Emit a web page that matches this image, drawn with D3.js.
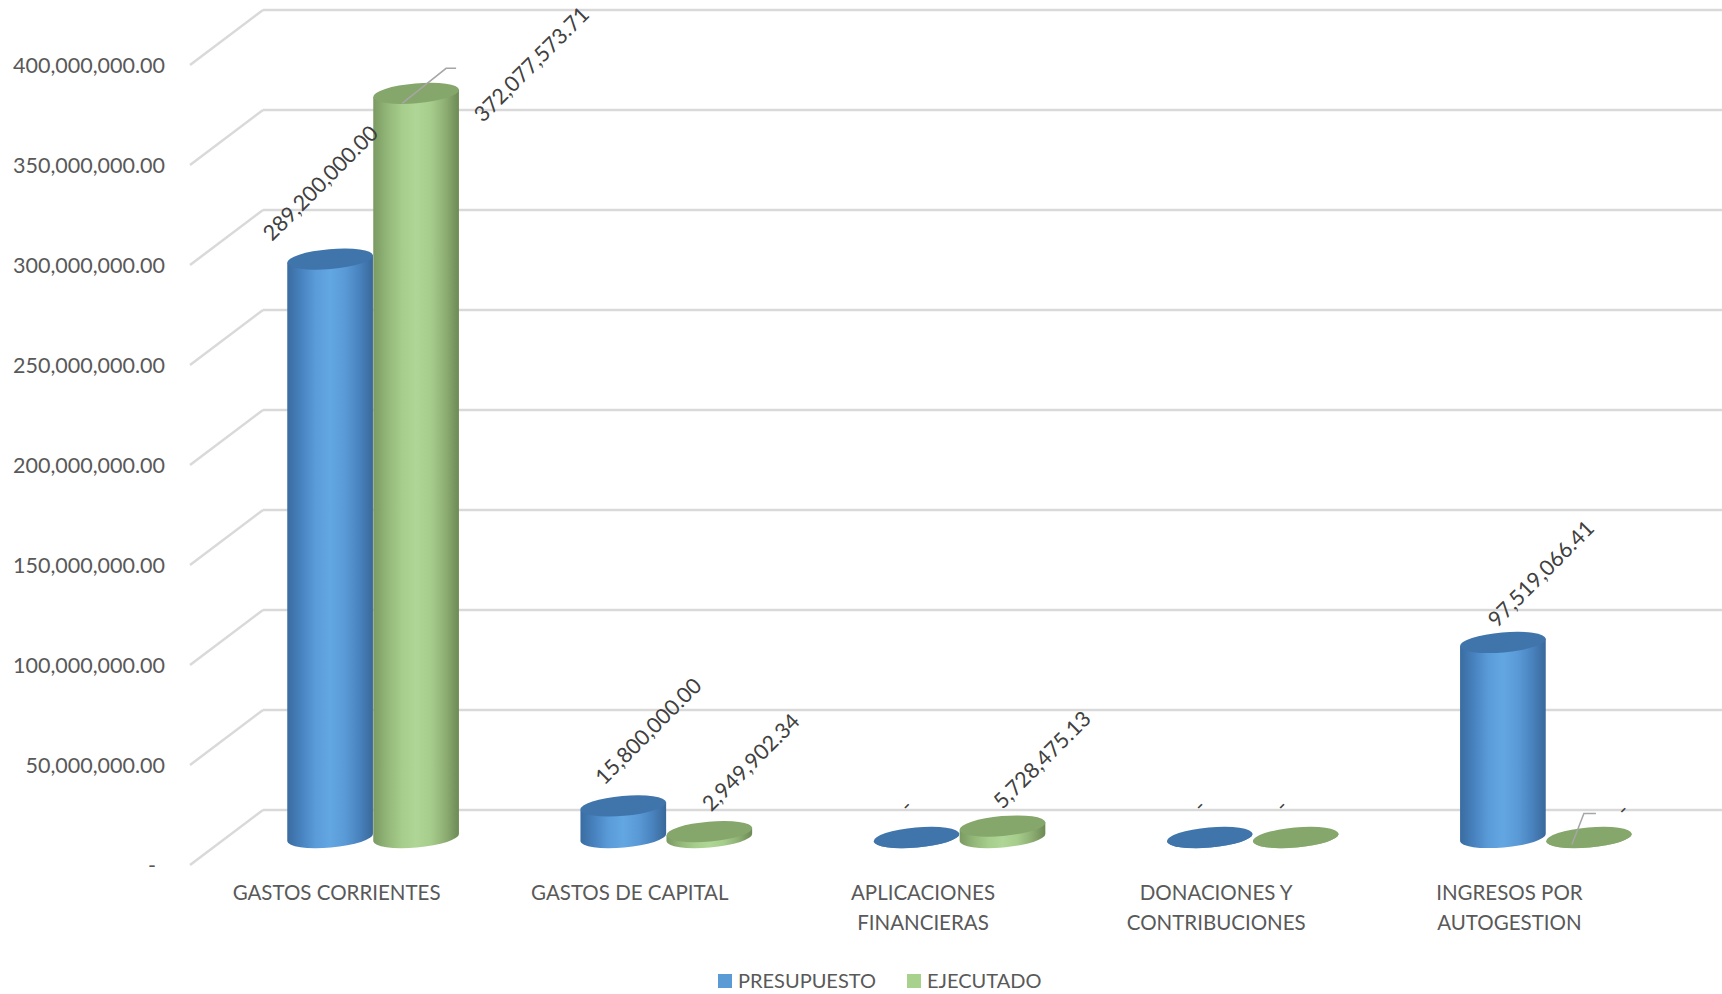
<!DOCTYPE html>
<html>
<head>
<meta charset="utf-8">
<script src="https://cdn.jsdelivr.net/npm/d3@7"></script>
<style>
  body { margin: 0; background: #fff; }
  svg { display: block; font-family: Lato, "Open Sans", sans-serif; }
</style>
</head>
<body>
<div id="chart"></div>
<script>
"use strict";

// chart data
var categories = [
    ["GASTOS CORRIENTES"],
    ["GASTOS DE CAPITAL"],
    ["APLICACIONES", "FINANCIERAS"],
    ["DONACIONES Y", "CONTRIBUCIONES"],
    ["INGRESOS POR", "AUTOGESTION"]
];
var seriesNames = ["PRESUPUESTO", "EJECUTADO"];
var presupuesto = [289200000.00, 15800000.00, 0, 0, 97519066.41];
var ejecutado = [372077573.71, 2949902.34, 5728475.13, 0, 0];
var yTicks = [0, 50000000, 100000000, 150000000, 200000000, 250000000, 300000000, 350000000, 400000000];

var specs = {
    w: 1722,
    h: 994,
    backLeft: 263,
    backRight: 1729,
    top: 10,
    bottom: 810,
    depthX: -73,   // offset of the front plane
    depthY: 55,
    barDepth: 0.5, // bars sit half way into the floor
    barW: 86,
    ry: 10,
    tilt: -5
};

var colors = {
    PRESUPUESTO: { top: "#3f75ab", key: "#5b9bd5",
        stops: ["#3a6ca0", "#4883c0", "#5a9cd9", "#62a6e2", "#5a9bd7", "#4a84c0", "#39689a"] },
    EJECUTADO: { top: "#85a76b", key: "#a9d18e",
        stops: ["#7a9a61", "#93b779", "#a6cd8b", "#b0d697", "#a7cd8c", "#8fb075", "#6c8a54"] }
};

// label placement relative to the top of each cylinder (series:category)
var labelLayout = {
    "0:0": { dx: -58, dy: -17 },
    "0:1": { dx: -19, dy: -20 },
    "0:2": { dx: -8, dy: -24 },
    "0:3": { dx: -8, dy: -24 },
    "0:4": { dx: -6, dy: -14 },
    "1:0": { dx: 67, dy: 30, leader: [[-14, 10], [30, -25], [40, -25]] },
    "1:1": { dx: 2, dy: -19 },
    "1:2": { dx: 0, dy: -16 },
    "1:3": { dx: -12, dy: -24 },
    "1:4": { dx: 36, dy: -20, leader: [[-17, 7], [-5, -24], [7, -24]] }
};

var fmt = d3.format(",.2f");
function label(v) { return v === 0 ? "-" : fmt(v); }

var svg = d3.select("#chart").append("svg")
    .attr("width", specs.w)
    .attr("height", specs.h);

var y = d3.scaleLinear().domain([0, 400000000]).range([specs.bottom, specs.top]);
var x = d3.scaleBand().domain(d3.range(categories.length))
    .range([specs.backLeft, specs.backRight]).paddingInner(0).paddingOuter(0);
var xs = d3.scaleBand().domain(seriesNames).range([-specs.barW, specs.barW]);

// gradients for the cylinder bodies
var defs = svg.append("defs");
seriesNames.forEach(function(name, i) {
    var g = defs.append("linearGradient").attr("id", "grad" + i)
        .attr("x1", "0%").attr("x2", "100%").attr("y1", "0%").attr("y2", "0%");
    var st = colors[name].stops;
    st.forEach(function(c, k) {
        g.append("stop").attr("offset", (k / (st.length - 1) * 100) + "%").attr("stop-color", c);
    });
});

// gridlines: back wall + side wall diagonals
var grid = svg.append("g");
yTicks.forEach(function(t) {
    var yy = y(t);
    grid.append("line")
        .attr("x1", specs.backLeft).attr("x2", specs.w)
        .attr("y1", yy).attr("y2", yy)
        .attr("stroke", "#d9d9d9").attr("stroke-width", 2.5);
    grid.append("line")
        .attr("x1", specs.backLeft + specs.depthX).attr("y1", yy + specs.depthY)
        .attr("x2", specs.backLeft).attr("y2", yy)
        .attr("stroke", "#d9d9d9").attr("stroke-width", 2.5);
});

// y axis labels on the front plane
svg.append("g").selectAll("text")
    .data(yTicks)
    .enter()
    .append("text")
    .attr("x", function(d) { return d === 0 ? 156 : 165; })
    .attr("y", function(d) { return y(d) + specs.depthY + 8; })
    .attr("text-anchor", "end")
    .attr("fill", "#595959")
    .style("font-size", "21.5px")
    .text(label);

// category labels on the front plane
var catG = svg.append("g");
categories.forEach(function(lines, i) {
    var cx = x(i) + x.bandwidth() / 2 + specs.depthX;
    var t = catG.append("text")
        .attr("text-anchor", "middle")
        .attr("fill", "#595959")
        .style("font-size", "20.5px");
    lines.forEach(function(l, k) {
        t.append("tspan").attr("x", cx).attr("y", 900 + k * 30).text(l);
    });
});

// bars
var series = [presupuesto, ejecutado];
var bars = [];
series.forEach(function(vals, s) {
    vals.forEach(function(v, i) {
        var cx = x(i) + x.bandwidth() / 2 + xs(seriesNames[s]) + xs.bandwidth() / 2 + specs.depthX * specs.barDepth;
        bars.push({
            s: s, i: i, v: v, cx: cx,
            top: y(v) + specs.depthY * specs.barDepth,
            bot: y(0) + specs.depthY * specs.barDepth
        });
    });
});
// draw category by category so green overlaps blue
bars.sort(function(a, b) { return a.i - b.i || a.s - b.s; });

var rx = specs.barW / 2;
var phi = specs.tilt * Math.PI / 180;
var ex = rx * Math.cos(phi), ey = rx * Math.sin(phi);

var barG = svg.append("g");
bars.forEach(function(d) {
    var c = colors[seriesNames[d.s]];
    var path = "M" + (d.cx - ex) + "," + (d.top - ey) +
        "L" + (d.cx - ex) + "," + (d.bot - ey) +
        "A" + rx + "," + specs.ry + "," + specs.tilt + ",0,0," + (d.cx + ex) + "," + (d.bot + ey) +
        "L" + (d.cx + ex) + "," + (d.top + ey) + "Z";
    barG.append("path")
        .attr("d", path)
        .attr("fill", "url(#grad" + d.s + ")");
    barG.append("ellipse")
        .attr("cx", 0).attr("cy", 0)
        .attr("rx", rx).attr("ry", specs.ry)
        .attr("transform", "translate(" + d.cx + "," + d.top + ") rotate(" + specs.tilt + ")")
        .attr("fill", c.top);
});

// data labels
var labG = svg.append("g");
bars.forEach(function(d) {
    var lay = labelLayout[d.s + ":" + d.i];
    if (lay.leader) {
        labG.append("polyline")
            .attr("points", lay.leader.map(function(p) { return (d.cx + p[0]) + "," + (d.top + p[1]); }).join(" "))
            .attr("fill", "none")
            .attr("stroke", "#a6a6a6")
            .attr("stroke-width", 1.5);
    }
    labG.append("text")
        .attr("transform", "translate(" + (d.cx + lay.dx) + "," + (d.top + lay.dy) + ") rotate(-45)")
        .attr("fill", "#404040")
        .style("font-size", "21.5px")
        .text(label(d.v));
});

// legend
var legend = svg.append("g").attr("transform", "translate(718,974)");
var lx = [0, 189];
seriesNames.forEach(function(name, i) {
    legend.append("rect")
        .attr("x", lx[i]).attr("y", 0)
        .attr("width", 14).attr("height", 14)
        .attr("fill", colors[name].key);
    legend.append("text")
        .attr("x", lx[i] + 20).attr("y", 14)
        .attr("fill", "#595959")
        .style("font-size", "20px")
        .text(name);
});
</script>
</body>
</html>
